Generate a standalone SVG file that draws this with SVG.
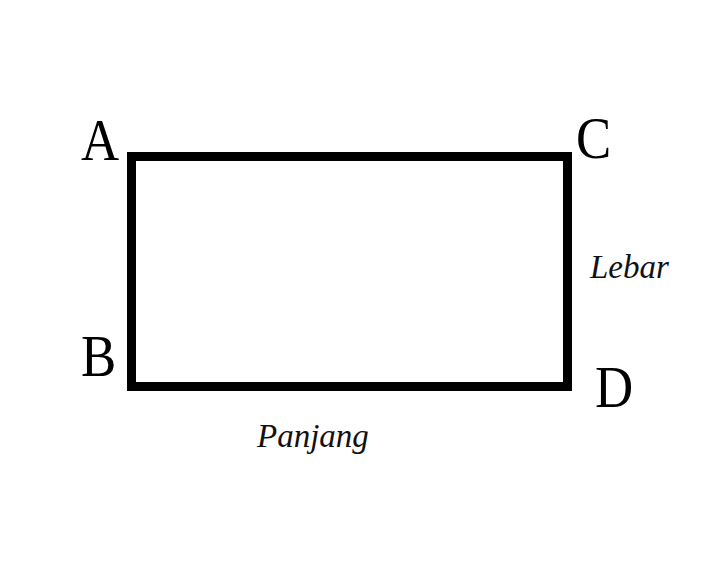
<svg xmlns="http://www.w3.org/2000/svg" width="711" height="571" viewBox="0 0 711 571">
<style>
.v{font-family:"Liberation Serif","Times New Roman",serif;font-size:60px;fill:#000}
.l{font-family:"Liberation Serif","Times New Roman",serif;font-style:italic;font-size:33px;fill:#111}
</style>
<rect width="711" height="571" fill="#fff"/>
<g id="rect"><rect x="131.5" y="156.5" width="436" height="230" fill="none" stroke="#000" stroke-width="9"/></g>
<g id="A"><text class="v" transform="translate(81,160) scale(0.88,1)">A</text></g>
<g id="C"><text class="v" transform="translate(576,158) scale(0.88,1)">C</text></g>
<g id="B"><text class="v" transform="translate(81,376) scale(0.88,1)">B</text></g>
<g id="D"><text class="v" transform="translate(595,407) scale(0.88,1)">D</text></g>
<g id="panjang"><text class="l" x="257" y="447">Panjang</text></g>
<g id="lebar"><text class="l" x="590" y="278">Lebar</text></g>
</svg>
